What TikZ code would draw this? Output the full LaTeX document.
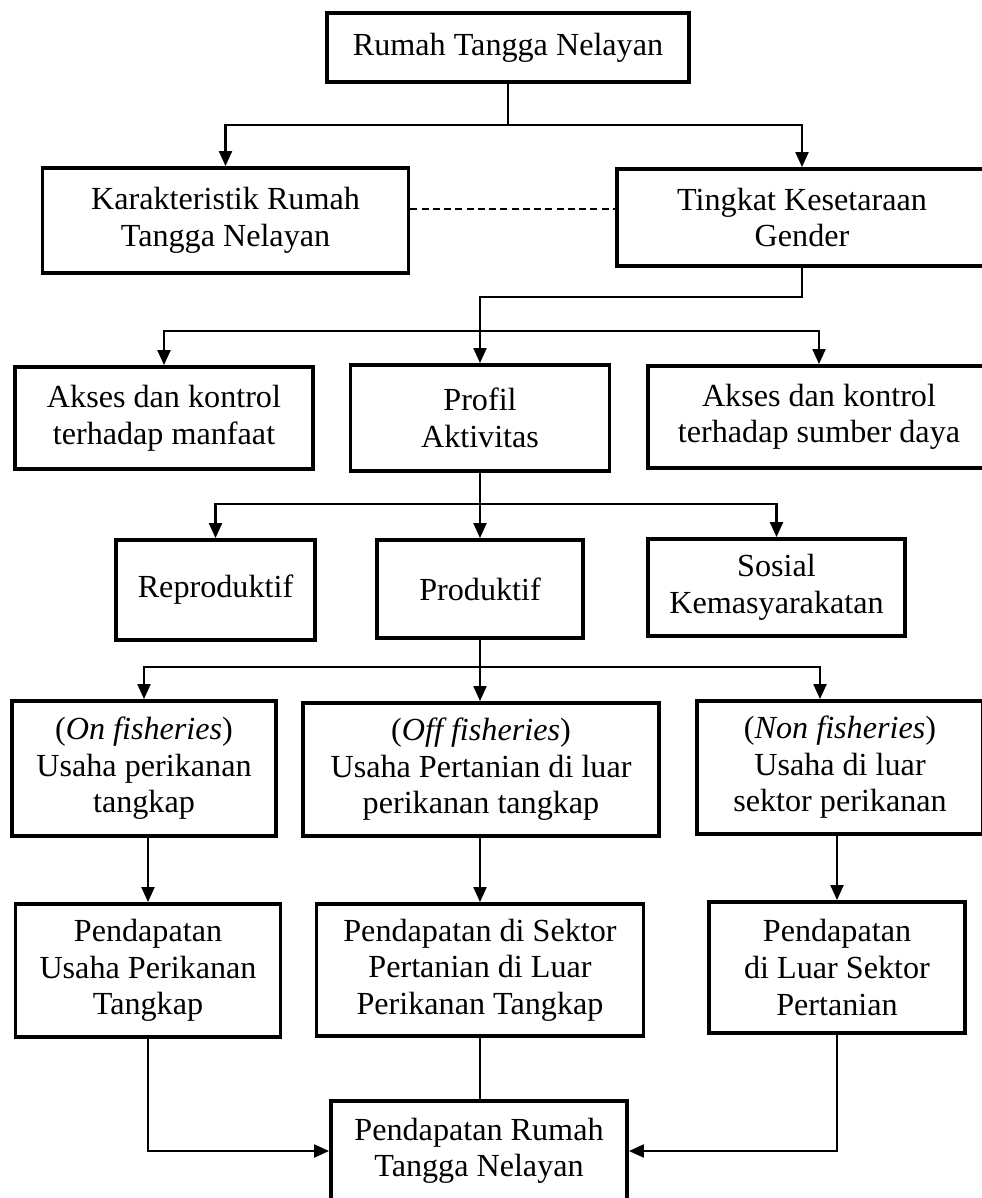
\documentclass[tikz,border=0pt]{standalone}
\usepackage{fontspec}
\setmainfont{Liberation Serif}
\usepackage{tikz}
\usetikzlibrary{arrows.meta}

\tikzset{
  box/.style={draw, line width=1.1pt, align=center, inner sep=0pt,
    font=\fontsize{9.15pt}{10.4pt}\selectfont},
  conn/.style={line width=0.6pt},
  arr/.style={conn, -{Triangle[length=1.5mm,width=1.3mm]}},
}

\begin{document}
\begin{tikzpicture}
	\useasboundingbox (0,0) rectangle (9.82,-11.98);
	\clip (0,0) rectangle (9.82,-11.98);
	% level 1
	\node[box, minimum width=3.62cm, minimum height=0.69cm] at (5.08,-0.475) (rtn) {Rumah Tangga Nelayan};
	% level 2
	\node[box, minimum width=3.66cm, minimum height=1.05cm] at (2.255,-2.205) (karak) {Karakteristik Rumah\\Tangga Nelayan};
	\node[box, minimum width=3.70cm, minimum height=0.97cm] at (8.02,-2.175) (gender) {Tingkat Kesetaraan\\Gender};
	% level 3
	\node[box, minimum width=2.98cm, minimum height=1.02cm] at (1.64,-4.18) (manfaat) {Akses dan kontrol\\terhadap manfaat};
	\node[box, minimum width=2.59cm, minimum height=1.06cm] at (4.80,-4.18) (profil) {Profil\\Aktivitas};
	\node[box, minimum width=3.42cm, minimum height=1.02cm] at (8.19,-4.17) (sumber) {Akses dan kontrol\\terhadap sumber daya};
	% level 4
	\node[box, minimum width=1.99cm, minimum height=1.00cm] at (2.155,-5.90) (reprod) {Reproduktif};
	\node[box, minimum width=2.06cm, minimum height=0.98cm] at (4.80,-5.89) (prod) {Produktif};
	\node[box, minimum width=2.57cm, minimum height=0.97cm] at (7.765,-5.875) (sosial) {Sosial\\Kemasyarakatan};
	% level 5
	\node[box, minimum width=2.64cm, minimum height=1.35cm] at (1.44,-7.685) (onf) {(\textit{On fisheries})\\Usaha perikanan\\tangkap};
	\node[box, minimum width=3.56cm, minimum height=1.33cm] at (4.81,-7.695) (offf) {(\textit{Off fisheries})\\Usaha Pertanian di luar\\perikanan tangkap};
	\node[box, minimum width=2.86cm, minimum height=1.33cm] at (8.40,-7.675) (nonf) {(\textit{Non fisheries})\\Usaha di luar\\sektor perikanan};
	% level 6
	\node[box, minimum width=2.65cm, minimum height=1.33cm] at (1.48,-9.705) (pusaha) {Pendapatan\\Usaha Perikanan\\Tangkap};
	\node[box, minimum width=3.27cm, minimum height=1.32cm] at (4.80,-9.70) (psektor) {Pendapatan di Sektor\\Pertanian di Luar\\Perikanan Tangkap};
	\node[box, minimum width=2.56cm, minimum height=1.31cm] at (8.37,-9.675) (pluar) {Pendapatan\\di Luar Sektor\\Pertanian};
	% level 7
	\node[box, minimum width=2.96cm, minimum height=1.00cm] at (4.79,-11.51) (prtn) {Pendapatan Rumah\\Tangga Nelayan};

	% connectors
	\coordinate (j1) at (5.08,-1.25);
	\draw[conn] (rtn) -- (j1);
	\draw[arr] (j1) -| (karak);
	\draw[arr] (j1) -| (gender);
	\draw[conn, dash pattern=on 2pt off 1.2pt] ([yshift=1.15mm]karak.east) -- ([yshift=1.15mm]karak.east -| gender.west);

	\draw[arr] (gender.south) -- ++(0,-0.29) -| (profil);
	\coordinate (j2) at (4.80,-3.31);
	\draw[arr] (j2) -| (manfaat);
	\draw[arr] (j2) -| (sumber);

	\draw[arr] (profil) -- (prod);
	\coordinate (j3) at (4.80,-5.04);
	\draw[arr] (j3) -| (reprod);
	\draw[arr] (j3) -| (sosial);

	\coordinate (j4) at (4.80,-6.67);
	\draw[arr] (prod.south) -- (prod.south |- offf.north);
	\draw[arr] (j4) -| (onf);
	\draw[arr] (j4) -| ([xshift=-2mm]nonf.north);

	\draw[arr] (pusaha.north |- onf.south) -- (pusaha);
	\draw[arr] (psektor.north |- offf.south) -- (psektor);
	\draw[arr] (pluar.north |- nonf.south) -- (pluar);

	\draw[arr] (pusaha.south) |- (prtn.west);
	\draw[conn] (psektor.south) -- (psektor.south |- prtn.north);
	\draw[arr] (pluar.south) |- (prtn.east);
\end{tikzpicture}
\end{document}
